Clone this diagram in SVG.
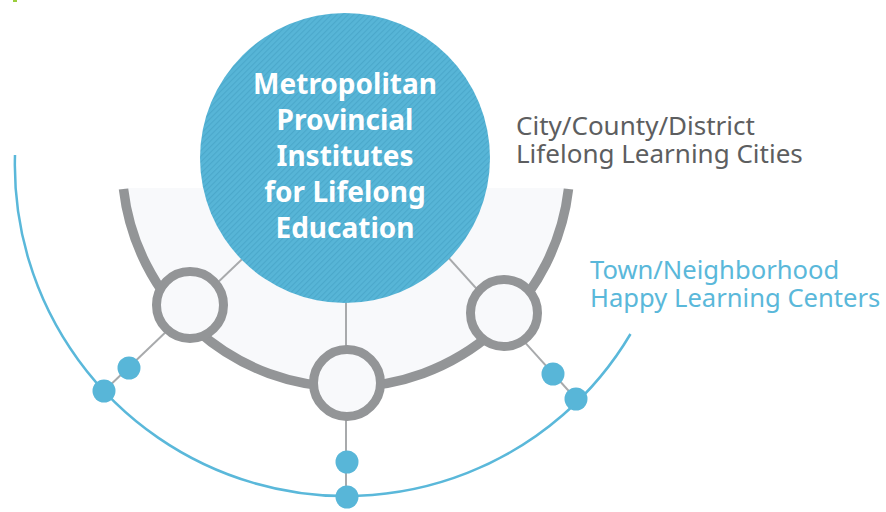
<svg xmlns="http://www.w3.org/2000/svg" width="886" height="512" viewBox="0 0 886 512">
<defs>
<pattern id="hatch" patternUnits="userSpaceOnUse" width="4" height="4" patternTransform="rotate(45)">
<rect width="4" height="4" fill="#57b5d7"/>
<line x1="0.5" y1="0" x2="0.5" y2="4" stroke="#4ba8cb" stroke-width="1.2"/>
</pattern>
<style>
.ring{fill:#f8f9fb;stroke:#939597;stroke-width:9}
.dot{fill:#58b6d8}
.spoke{stroke:#a8aaac;stroke-width:2;fill:none}
.ctext{font-family:"Noto Sans",sans-serif;font-weight:700;font-size:28px;fill:#ffffff;text-anchor:middle}
.gtext{font-family:"Noto Sans",sans-serif;font-size:26px;fill:#5d5e60}
.btext{font-family:"Noto Sans",sans-serif;font-size:25.6px;fill:#5ab8da}
</style>
</defs>
<rect width="886" height="512" fill="#ffffff"/>
<rect x="13" y="0" width="4" height="2" fill="#9acd3c"/>
<g id="city-ring">
<path d="M 123.5 188 A 224 224 0 0 0 568.5 188 Z" fill="#f8f9fb"/>
<path d="M 123.5 189 A 224 224 0 0 0 568.5 189" fill="none" stroke="#939597" stroke-width="9.5"/>
</g>
<g id="connectors">
<line class="spoke" x1="346" y1="160" x2="104" y2="391"/>
<line class="spoke" x1="346" y1="160" x2="346" y2="497"/>
<line class="spoke" x1="410" y1="215" x2="576" y2="399"/>
</g>
<g id="town-ring">
<path d="M 15 155 A 331 331 0 0 0 630.5 334" fill="none" stroke="#5ab8da" stroke-width="2.5"/>
</g>
<g id="metro">
<circle cx="345" cy="158" r="145" fill="url(#hatch)"/>
<text class="ctext"><tspan x="345" y="94">Metropolitan</tspan><tspan x="345" y="130">Provincial</tspan><tspan x="345" y="166">Institutes</tspan><tspan x="345" y="202">for Lifelong</tspan><tspan x="345" y="238">Education</tspan></text>
</g>
<g id="city-left"><circle class="ring" cx="190" cy="305" r="33.5"/></g>
<g id="city-bottom"><circle class="ring" cx="347" cy="383" r="33.5"/></g>
<g id="city-right"><circle class="ring" cx="504" cy="313" r="33.5"/></g>
<g id="town-dots">
<circle class="dot" cx="129" cy="368" r="11.5"/>
<circle class="dot" cx="104" cy="391" r="11.5"/>
<circle class="dot" cx="347" cy="462" r="11.5"/>
<circle class="dot" cx="347" cy="497" r="11.5"/>
<circle class="dot" cx="553" cy="374" r="11.5"/>
<circle class="dot" cx="576" cy="399" r="11.5"/>
</g>
<g id="label-city">
<text class="gtext"><tspan x="516" y="135">City/County/District</tspan><tspan x="516" y="163">Lifelong Learning Cities</tspan></text>
</g>
<g id="label-town">
<text class="btext"><tspan x="590" y="279">Town/Neighborhood</tspan><tspan x="590" y="307">Happy Learning Centers</tspan></text>
</g>
</svg>
